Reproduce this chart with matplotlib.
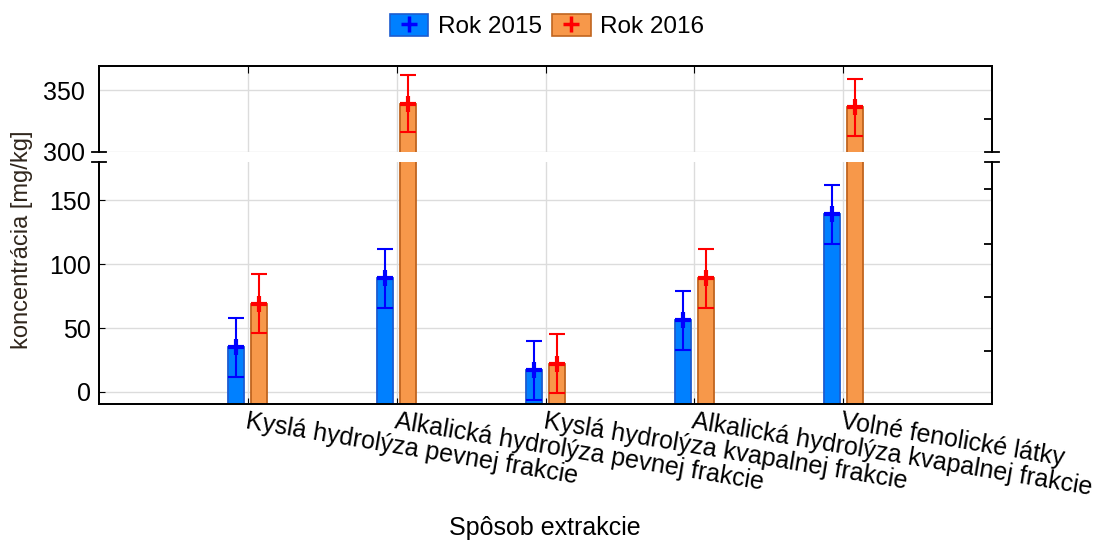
import matplotlib
matplotlib.use("Agg")
import matplotlib.pyplot as plt
from matplotlib.patches import Patch
from matplotlib.lines import Line2D
import numpy as np

plt.rcParams['font.family'] = ['Liberation Sans', 'DejaVu Sans']

categories = ["Kyslá hydrolýza pevnej frakcie",
              "Alkalická hydrolýza pevnej frakcie",
              "Kyslá hydrolýza kvapalnej frakcie",
              "Alkalická hydrolýza kvapalnej frakcie",
              "Volné fenolické látky"]
series_names = ["Rok 2015", "Rok 2016"]
values_2015 = [35, 89, 17, 56, 139]
values_2016 = [69, 339, 22, 89, 336]
err_2015 = [23, 23, 23, 23, 23]
err_2016 = [23, 23, 23, 23, 23]
lower_ticks = [0, 50, 100, 150]
upper_ticks = [300, 350]

fill_colors = ['#0080ff', '#f7984a']
edge_colors = ['#1c5cd0', '#c0651f']
err_colors = ['#0000ff', '#ff0000']

W, H = 1096, 543
fig = plt.figure(figsize=(W / 100, H / 100), dpi=100)

def fx(px):
    return px / W

def fy(py):
    return 1 - py / H

left, right = 99, 992
ax_low = fig.add_axes([fx(left), fy(404), fx(right - left), fy(162) - fy(404)])
ax_up = fig.add_axes([fx(left), fy(152), fx(right - left), fy(66) - fy(152)], sharex=ax_low)

x = np.arange(1, len(categories) + 1)
offset = 0.077
width = 0.107
base = -30  # bars start below the visible axis floor

for ax in (ax_low, ax_up):
    ax.set_axisbelow(True)
    for i, (vals, errs) in enumerate([(values_2015, err_2015), (values_2016, err_2016)]):
        xs = x + (-offset if i == 0 else offset)
        v = np.array(vals, dtype=float)
        ax.bar(xs, v - base, bottom=base, width=width, color=fill_colors[i],
               edgecolor=edge_colors[i], linewidth=1.3, zorder=2)
        ax.errorbar(xs, v, yerr=errs, fmt='none', ecolor=err_colors[i],
                    elinewidth=1.5, capsize=5.8, capthick=1.5, zorder=3)
        ax.plot(xs, v, linestyle='none', marker='+', markersize=11,
                markeredgewidth=3, color=err_colors[i], zorder=4)
    ax.grid(True, color='#dcdcdc', linewidth=1.0)
    ax.set_xlim(0, 6)
    for s in ax.spines.values():
        s.set_linewidth(1.3)
    ax.tick_params(axis='both', direction='in', labelsize=18, colors='black')

ax_low.set_ylim(-9.4, 180)
ax_low.set_yticks(lower_ticks)
ax_up.set_ylim(300, 369.4)
ax_up.set_yticks(upper_ticks)

ax_low.spines['top'].set_visible(False)
ax_up.spines['bottom'].set_visible(False)

ax_low.set_xticks(x)
ax_low.set_xticklabels(categories, rotation=-9.5, ha='left', va='top',
                       rotation_mode='anchor', fontsize=18)
ax_low.tick_params(axis='x', top=False, bottom=True, length=4, pad=4)
ax_up.tick_params(axis='x', top=True, bottom=False, labelbottom=False, length=5)
ax_low.tick_params(axis='y', length=4, pad=6)
ax_up.tick_params(axis='y', length=0, pad=10)

# right-side ticks (inside)
ax_low_r = ax_low.twinx()
ax_low_r.set_ylim(ax_low.get_ylim())
ax_low_r.set_yticks([32, 74, 116, 159])
ax_low_r.tick_params(axis='y', direction='in', length=6, width=1.3, labelright=False)
ax_low_r.spines['top'].set_visible(False)
for s in ax_low_r.spines.values():
    s.set_linewidth(1.3)
ax_up_r = ax_up.twinx()
ax_up_r.set_ylim(ax_up.get_ylim())
ax_up_r.set_yticks([327])
ax_up_r.tick_params(axis='y', direction='in', length=6, width=1.3, labelright=False)
ax_up_r.spines['bottom'].set_visible(False)
for s in ax_up_r.spines.values():
    s.set_linewidth(1.3)

# break marks
for py in (152, 162):
    for (x0, x1) in ((92, 106), (985, 999)):
        fig.add_artist(Line2D([fx(x0), fx(x1)], [fy(py), fy(py)], color='black',
                              linewidth=1.3, transform=fig.transFigure, clip_on=False))

fig.text(fx(22), fy(240), "koncentrácia [mg/kg]", rotation=90, ha='center', va='center',
         fontsize=17, color='#30261c')
fig.text(fx(545), fy(528), "Spôsob extrakcie", ha='center', va='center', fontsize=18)

handles = []
for i in range(2):
    handles.append((Patch(facecolor=fill_colors[i], edgecolor=edge_colors[i], linewidth=1.2),
                    Line2D([], [], linestyle='none', marker='+', markersize=11,
                           markeredgewidth=2.5, color=err_colors[i])))
fig.legend(handles, series_names, loc='center', bbox_to_anchor=(fx(547), fy(26)), ncol=2,
           frameon=False, fontsize=17.5, handlelength=1.6, handleheight=1.0,
           handletextpad=0.4, columnspacing=0.4, borderpad=0.2)

fig.savefig("out.png", dpi=100)
